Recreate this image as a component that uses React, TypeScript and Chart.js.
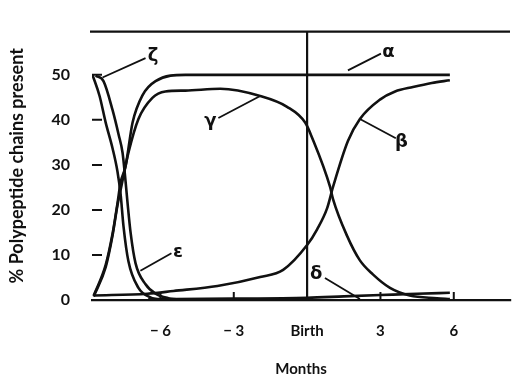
import React, { useEffect, useRef } from 'react';
import { Chart, registerables } from 'chart.js';

Chart.register(...registerables);

// ---- Data (months relative to birth, % polypeptide chains present) ----
const zetaMonths = [-8.78, -8.49, -8.24, -7.96, -7.76, -7.63, -7.51, -7.31, -6.9, -6.41, -5.8];
const zetaValues = [50, 45.3, 39.4, 33.7, 28.6, 23.5, 16.3, 8.6, 2.7, 0.6, 0];

const epsilonMonths = [-8.65, -8.33, -7.96, -7.71, -7.55, -7.43, -7.35, -7.22, -7.02, -6.61, -6.2, -5.67, -4.98];
const epsilonValues = [49.8, 48.6, 42.2, 36.7, 32.7, 26.5, 21.8, 14.9, 8.2, 3.5, 1.4, 0.4, 0];

const alphaMonths = [-8.73, -8.24, -7.96, -7.76, -7.63, -7.43, -7.14, -6.73, -6.2, -4.98, -3, 0, 3, 5.84];
const alphaValues = [1.0, 7.8, 14.7, 21.4, 26.1, 29.6, 39.4, 45.5, 48.6, 50, 50, 50, 50, 50];

const gammaMonths = [-8.73, -8.24, -7.96, -7.76, -7.59, -7.31, -6.9, -6.33, -5.8, -4.98, -3.55, -1.92, -0.82, -0.08, 0.2, 0.94, 1.06, 1.63, 2.16, 2.69, 3.39, 4.2, 5.31, 5.84];
const gammaValues = [0.8, 7.3, 14.3, 21, 25.5, 32.7, 40.2, 44.9, 46.3, 46.5, 46.9, 45.3, 42.9, 39.4, 36.1, 25.1, 22.4, 14.3, 8.8, 5.7, 2.7, 1.0, 0.4, 0.2];

const betaMonths = [-8.73, -6.53, -5.47, -3.67, -1.92, -0.98, 0, 0.41, 0.82, 1.06, 1.67, 2.16, 2.98, 3.6, 4.33, 5.1, 5.84];
const betaValues = [1.0, 1.4, 2.0, 3.1, 5.1, 6.7, 12.2, 15.7, 20.4, 25.1, 35.3, 40.2, 44.5, 46.3, 47.3, 48.2, 48.8];

const deltaMonths = [-6.5, -3, 0, 1.5, 3, 4.5, 5.84];
const deltaValues = [0.2, 0.3, 0.5, 0.8, 1.1, 1.4, 1.6];

const xTickValues = [-6, -3, 0, 3, 6];
const xTickLabels = ['\u2212 6', '\u2212 3', 'Birth', '3', '6'];
const yTickValues = [0, 10, 20, 30, 40, 50];

// Greek chain labels with pointer lines, in data coordinates
const labelTexts = ['\u03b6', '\u03b3', '\u03b1', '\u03b2', '\u03b5', '\u03b4'];
const labelMonths = [-6.3, -3.96, 3.33, 3.86, -5.28, 0.37];
const labelValues = [54.1, 39.6, 54.9, 35.1, 10.6, 5.7];
const pointerFromMonths = [-6.61, -3.63, 1.67, 2.16, -5.55, 0.73];
const pointerFromValues = [53.7, 40.4, 51.0, 40.2, 10.4, 4.9];
const pointerToMonths = [-8.37, -1.92, 3.02, 3.63, -6.82, 2.16];
const pointerToValues = [49.4, 45.3, 54.7, 35.9, 6.5, 0.2];

const INK = '#111111';
const TICK_FONT = 'Lato, "DejaVu Sans", sans-serif';

const pts = (xs: number[], ys: number[]) => xs.map((x, i) => ({ x, y: ys[i] }));

const decor = {
  id: 'decor',
  afterDatasetsDraw(chart: any) {
    const { ctx, chartArea: a, scales } = chart;
    const x = scales.x;
    const y = scales.y;
    ctx.save();
    ctx.strokeStyle = INK;
    ctx.lineCap = 'butt';
    ctx.lineWidth = 2.2;
    // top frame line
    ctx.beginPath();
    ctx.moveTo(a.left - 2, a.top);
    ctx.lineTo(a.right, a.top);
    ctx.stroke();
    // inner y ticks
    ctx.lineWidth = 2;
    ctx.beginPath();
    yTickValues.filter((v) => v > 0).forEach((v) => {
      const py = y.getPixelForValue(v);
      ctx.moveTo(a.left, py);
      ctx.lineTo(a.left + 10, py);
    });
    // inner x ticks
    xTickValues.filter((v) => v !== 0).forEach((v) => {
      const px = x.getPixelForValue(v);
      ctx.moveTo(px, a.bottom);
      ctx.lineTo(px, a.bottom - 8);
    });
    ctx.stroke();
    // pointer lines
    ctx.lineWidth = 1.8;
    ctx.beginPath();
    labelTexts.forEach((_, i) => {
      ctx.moveTo(x.getPixelForValue(pointerFromMonths[i]), y.getPixelForValue(pointerFromValues[i]));
      ctx.lineTo(x.getPixelForValue(pointerToMonths[i]), y.getPixelForValue(pointerToValues[i]));
    });
    ctx.stroke();
    // greek labels
    ctx.fillStyle = INK;
    ctx.font = 'bold 18px "DejaVu Sans", sans-serif';
    ctx.textAlign = 'center';
    ctx.textBaseline = 'middle';
    labelTexts.forEach((t, i) => {
      ctx.fillText(t, x.getPixelForValue(labelMonths[i]), y.getPixelForValue(labelValues[i]));
    });
    ctx.restore();
  },
};

export default function App() {
  const ref = useRef<HTMLCanvasElement>(null);

  useEffect(() => {
    const lineStyle = {
      borderColor: INK,
      borderWidth: 2.6,
      pointRadius: 0,
      fill: false,
      cubicInterpolationMode: 'monotone' as const,
    };
    const chart = new Chart(ref.current!, {
      type: 'line',
      data: {
        datasets: [
          { label: '\u03b6', data: pts(zetaMonths, zetaValues), ...lineStyle },
          { label: '\u03b5', data: pts(epsilonMonths, epsilonValues), ...lineStyle },
          { label: '\u03b1', data: pts(alphaMonths, alphaValues), ...lineStyle },
          { label: '\u03b3', data: pts(gammaMonths, gammaValues), ...lineStyle },
          { label: '\u03b2', data: pts(betaMonths, betaValues), ...lineStyle },
          { label: '\u03b4', data: pts(deltaMonths, deltaValues), ...lineStyle },
        ],
      },
      options: {
        responsive: false,
        animation: false,
        layout: { padding: { left: 0, right: 4, top: 8, bottom: 0 } },
        plugins: {
          legend: { display: false },
          tooltip: { enabled: false },
        },
        scales: {
          x: {
            type: 'linear',
            min: -8.8,
            max: 8.3,
            afterBuildTicks: (s: any) => {
              s.ticks = xTickValues.map((v) => ({ value: v }));
            },
            afterFit: (s: any) => {
              s.height = 83;
            },
            ticks: {
              autoSkip: false,
              maxRotation: 0,
              padding: 22,
              color: INK,
              font: { family: TICK_FONT, size: 15, weight: 'bold' },
              callback: (v: any) => {
                const i = xTickValues.indexOf(Number(v));
                return i >= 0 ? xTickLabels[i] : '';
              },
            },
            grid: {
              drawTicks: false,
              lineWidth: 2.2,
              color: (c: any) => (c.tick && c.tick.value === 0 ? INK : 'rgba(0,0,0,0)'),
            },
            border: { display: true, color: INK, width: 2.2 },
            title: {
              display: true,
              text: 'Months',
              color: INK,
              font: { family: TICK_FONT, size: 15, weight: 'bold' },
              padding: { top: 0, bottom: 5 },
            },
          },
          y: {
            type: 'linear',
            min: 0,
            max: 59.6,
            afterBuildTicks: (s: any) => {
              s.ticks = yTickValues.map((v) => ({ value: v }));
            },
            afterFit: (s: any) => {
              s.width = 92;
            },
            ticks: {
              padding: 22,
              color: INK,
              font: { family: TICK_FONT, size: 16, weight: 'bold' },
            },
            grid: { display: false, drawTicks: false },
            border: { display: false },
            title: {
              display: true,
              text: '% Polypeptide chains present',
              color: INK,
              font: { family: TICK_FONT, size: 18, weight: 'bold' },
              padding: { top: 6, bottom: 0 },
            },
          },
        },
      },
      plugins: [decor],
    });
    return () => chart.destroy();
  }, []);

  return (
    <div style={{ position: 'fixed', left: 0, top: 0, width: 514, height: 383, background: '#ffffff' }}>
      <canvas ref={ref} width={514} height={383} style={{ display: 'block' }} />
    </div>
  );
}
